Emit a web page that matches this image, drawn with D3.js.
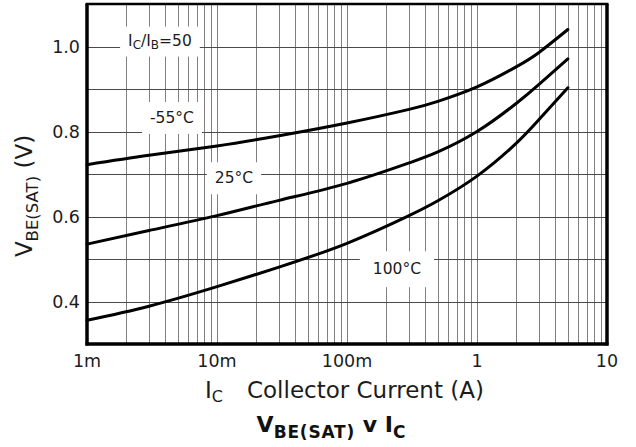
<!DOCTYPE html>
<html>
<head>
    <title>VBE(SAT) v IC</title>
    <script src="https://d3js.org/d3.v7.min.js"></script>
    <style>
        body, html {
            margin: 0;
            padding: 0;
            background: #fff;
            overflow: hidden;
        }

        svg {
            display: block;
        }

        .tick-label {
            font-family: "DejaVu Sans", sans-serif;
            font-size: 17.5px;
            fill: #1c1c1c;
        }

        .curve-label {
            font-family: "DejaVu Sans", sans-serif;
            font-size: 15.5px;
            fill: #1c1c1c;
        }

        .axis-title {
            font-family: "DejaVu Sans", sans-serif;
            font-size: 23px;
            fill: #1c1c1c;
        }

        .chart-title {
            font-family: "DejaVu Sans", sans-serif;
            font-weight: bold;
            font-size: 22px;
            fill: #111;
        }

        .curve {
            fill: none;
            stroke: #000;
            stroke-width: 3;
            stroke-linecap: round;
        }
    </style>
</head>
<body>
    <svg id="chart" width="636" height="447"></svg>

    <script>
        // collector current (A) and VBE(SAT) (V)
        const current = [0.001, 0.003, 0.01, 0.03, 0.1, 0.3, 0.5, 1, 2, 3, 5];
        const vbeMinus55 = [0.722, 0.744, 0.766, 0.79, 0.82, 0.852, 0.871, 0.905, 0.952, 0.986, 1.04];
        const vbe25 = [0.535, 0.567, 0.602, 0.638, 0.678, 0.726, 0.752, 0.8, 0.866, 0.911, 0.971];
        const vbe100 = [0.356, 0.389, 0.435, 0.481, 0.537, 0.602, 0.637, 0.695, 0.772, 0.828, 0.903];

        const xTickValues = [0.001, 0.01, 0.1, 1, 10];
        const xTickLabels = ["1m", "10m", "100m", "1", "10"];
        const yTickValues = [0.4, 0.6, 0.8, 1.0];
        const yTickLabels = ["0.4", "0.6", "0.8", "1.0"];

        const curveNames = ["-55°C", "25°C", "100°C"];
        const curveLabelCurrent = [0.0045, 0.0135, 0.242];
        const curveLabelVolts = [0.832, 0.69, 0.476];

        const svg = d3.select("#chart");
        const plot = { left: 87, right: 607, top: 4, bottom: 344 };

        const x = d3.scaleLog()
            .domain([0.001, 10])
            .range([plot.left, plot.right]);

        const y = d3.scaleLinear()
            .domain([0.3, 1.1])
            .range([plot.bottom, plot.top]);

        const crisp = v => Math.round(v) + 0.5;

        // grid: every 1..9 of each decade, and every 0.1 V
        svg.append("g")
            .selectAll("line")
            .data(x.ticks())
            .enter().append("line")
            .attr("x1", d => crisp(x(d)))
            .attr("x2", d => crisp(x(d)))
            .attr("y1", plot.top)
            .attr("y2", plot.bottom)
            .attr("stroke", "#808080")
            .attr("stroke-width", 1);

        svg.append("g")
            .selectAll("line")
            .data(d3.range(4, 11).map(d => d / 10))
            .enter().append("line")
            .attr("x1", plot.left)
            .attr("x2", plot.right)
            .attr("y1", d => crisp(y(d)))
            .attr("y2", d => crisp(y(d)))
            .attr("stroke", "#4a4a4a")
            .attr("stroke-width", 1);

        // labels sit on white patches that cut the grid
        const labels = svg.append("g");
        const line = d3.line()
            .x(d => x(d[0]))
            .y(d => y(d[1]))
            .curve(d3.curveNatural);

        [vbeMinus55, vbe25, vbe100].forEach(series => {
            svg.append("path")
                .attr("class", "curve")
                .attr("d", line(current.map((c, i) => [c, series[i]])));
        });

        function addLabel(g, cx, cy, build, padX, padY) {
            const grp = g.append("g");
            const bg = grp.append("rect").attr("fill", "#fff");
            const t = grp.append("text")
                .attr("x", cx)
                .attr("y", cy)
                .attr("text-anchor", "middle")
                .attr("dominant-baseline", "central");
            build(t);
            const bb = t.node().getBBox();
            bg.attr("x", bb.x - padX)
                .attr("y", bb.y - padY)
                .attr("width", bb.width + 2 * padX)
                .attr("height", bb.height + 2 * padY);
        }

        addLabel(labels, x(0.00364), y(1.014), t => {
            t.attr("class", "curve-label");
            t.append("tspan").text("I");
            t.append("tspan").attr("font-size", "12px").attr("dy", 4).text("C");
            t.append("tspan").attr("dy", -4).text("/I");
            t.append("tspan").attr("font-size", "12px").attr("dy", 4).text("B");
            t.append("tspan").attr("dy", -4).text("=50");
        }, 8, 5);

        curveNames.forEach((name, i) => {
            addLabel(labels, x(curveLabelCurrent[i]), y(curveLabelVolts[i]), t => {
                t.attr("class", "curve-label").text(name);
            }, i === 2 ? 13 : 8, i === 2 ? 9 : 7);
        });

        // frame
        const frame = svg.append("g").attr("stroke", "#000");
        frame.append("line").attr("x1", plot.left).attr("x2", plot.left)
            .attr("y1", plot.top).attr("y2", plot.bottom + 1.5).attr("stroke-width", 3.5);
        frame.append("line").attr("x1", plot.right).attr("x2", plot.right)
            .attr("y1", plot.top).attr("y2", plot.bottom + 1.5).attr("stroke-width", 3.5);
        frame.append("line").attr("x1", plot.left - 1.5).attr("x2", plot.right + 1.5)
            .attr("y1", plot.bottom).attr("y2", plot.bottom).attr("stroke-width", 3.5);
        frame.append("line").attr("x1", plot.left - 1.5).attr("x2", plot.right + 1.5)
            .attr("y1", plot.top).attr("y2", plot.top).attr("stroke-width", 2.5);

        // tick labels
        svg.append("g")
            .selectAll("text")
            .data(xTickValues)
            .enter().append("text")
            .attr("class", "tick-label")
            .attr("x", d => x(d))
            .attr("y", 367)
            .attr("text-anchor", "middle")
            .text((d, i) => xTickLabels[i]);

        svg.append("g")
            .selectAll("text")
            .data(yTickValues)
            .enter().append("text")
            .attr("class", "tick-label")
            .attr("x", plot.left - 7)
            .attr("y", d => y(d))
            .attr("text-anchor", "end")
            .attr("dominant-baseline", "central")
            .text((d, i) => yTickLabels[i]);

        // x axis title
        const xt = svg.append("text")
            .attr("class", "axis-title")
            .attr("x", 205)
            .attr("y", 398);
        xt.append("tspan").text("I");
        xt.append("tspan").attr("font-size", "16px").attr("dy", 4).text("C");
        xt.append("tspan").attr("dy", -4).attr("dx", 24).text("Collector Current (A)");

        // y axis title
        const yt = svg.append("text")
            .attr("class", "axis-title")
            .attr("transform", "rotate(-90)")
            .attr("x", -196)
            .attr("y", 32)
            .attr("text-anchor", "middle");
        yt.append("tspan").text("V");
        yt.append("tspan").attr("font-size", "16.5px").attr("dy", 6).text("BE(SAT)");
        yt.append("tspan").attr("dy", -6).text(" (V)");

        // chart title
        const title = svg.append("text")
            .attr("class", "chart-title")
            .attr("x", 331)
            .attr("y", 432)
            .attr("text-anchor", "middle");
        title.append("tspan").text("V");
        title.append("tspan").attr("font-size", "17px").attr("dy", 6).attr("letter-spacing", "0.8").text("BE(SAT)");
        title.append("tspan").attr("dy", -6).text(" v I");
        title.append("tspan").attr("font-size", "17px").attr("dy", 6).text("C");
    </script>
</body>
</html>
